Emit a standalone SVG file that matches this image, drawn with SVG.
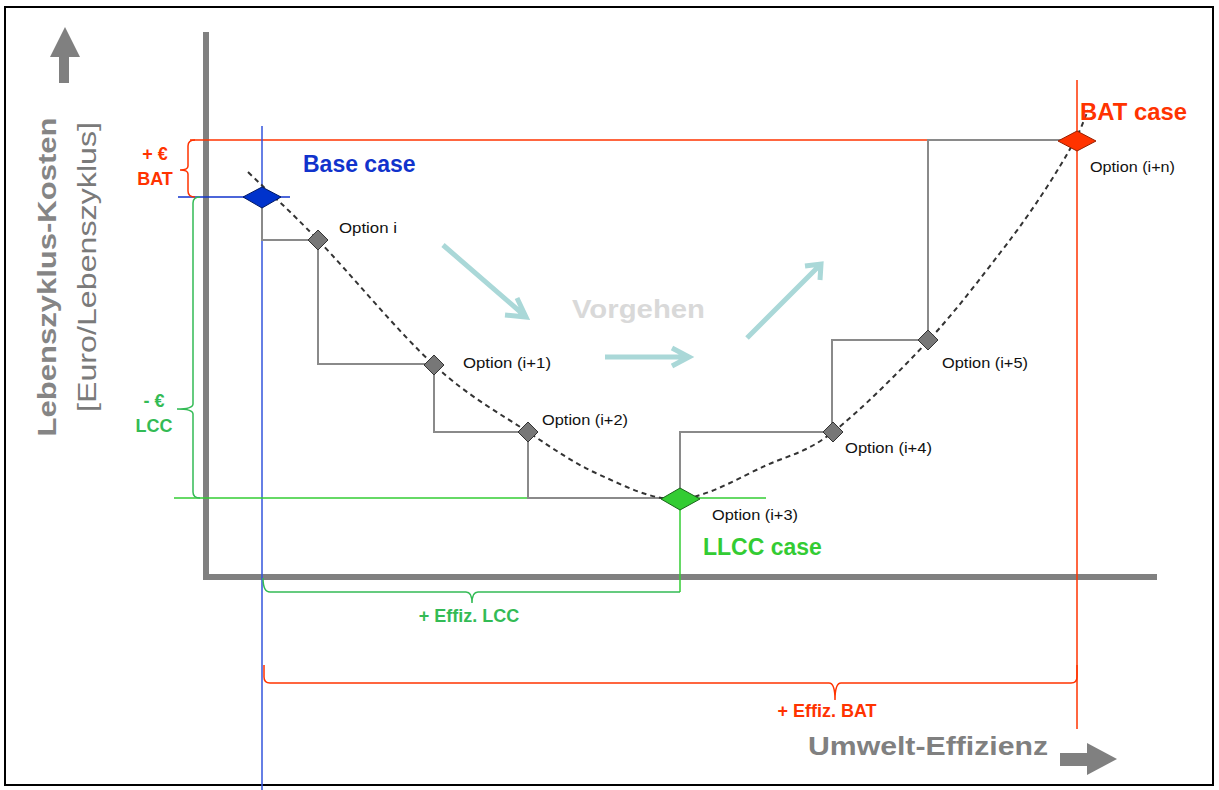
<svg xmlns="http://www.w3.org/2000/svg" width="1219" height="790" viewBox="0 0 1219 790">
<style>
.axis{stroke:#808080;stroke-width:6;fill:none}
.step{stroke:#8a8a8a;stroke-width:2;fill:none}
.opt{font-family:"Liberation Sans",Arial,sans-serif;font-size:15.5px;fill:#111}
.case{font-family:"Liberation Sans",Arial,sans-serif;font-size:23px;font-weight:bold}
.lbl{font-family:"Liberation Sans",Arial,sans-serif;font-size:18px;font-weight:bold;text-anchor:middle}
.od{fill:#777;stroke:#333;stroke-width:1}
.proc{stroke:#aad8d8;stroke-width:5;fill:none;stroke-linecap:butt}
</style>
<rect x="5" y="7" width="1208" height="778" fill="#fff" stroke="#000" stroke-width="2"/>

<g id="axes">
<line class="axis" x1="206" y1="32" x2="206" y2="580"/>
<line class="axis" x1="203" y1="577" x2="1157" y2="577"/>
<polygon points="65,27 80,57 69,57 69,83 59,83 59,57 50,57" fill="#808080"/>
<polygon points="1117,759 1087,743 1087,753 1060,753 1060,766 1087,766 1087,775" fill="#808080"/>
<text font-family="Liberation Sans,Arial,sans-serif" font-size="25" font-weight="bold" fill="#858585" transform="translate(56,277) rotate(-90)" text-anchor="middle" textLength="319" lengthAdjust="spacingAndGlyphs">Lebenszyklus-Kosten</text>
<text font-family="Liberation Sans,Arial,sans-serif" font-size="25" fill="#7a7a7a" transform="translate(96,267) rotate(-90)" text-anchor="middle" textLength="290" lengthAdjust="spacingAndGlyphs">[Euro/Lebenszyklus]</text>
<text x="808" y="755" font-family="Liberation Sans,Arial,sans-serif" font-size="25" font-weight="bold" fill="#808080" textLength="240" lengthAdjust="spacingAndGlyphs">Umwelt-Effizienz</text>
</g>

<g id="guides">
<line x1="190" y1="140" x2="1075" y2="140" stroke="#ff3300" stroke-width="1.5"/>
<line x1="1077" y1="80" x2="1077" y2="729" stroke="#ff3300" stroke-width="1.5"/>
<line x1="262" y1="126" x2="262" y2="790" stroke="#3355dd" stroke-width="1.5"/>
<line x1="178" y1="197" x2="290" y2="197" stroke="#1133cc" stroke-width="1.5"/>
<line x1="174" y1="498" x2="766" y2="498" stroke="#33cc33" stroke-width="1.5"/>
</g>

<g id="brackets" fill="none" stroke-width="1.5">
<path d="M195,140 Q188,140 188,146 L188,166 Q188,170 180,170 Q188,170 188,174 L188,191 Q188,197 195,197" stroke="#ff3300"/>
<path d="M200,197 Q193,197 193,203 L193,404 Q193,409 177,409 Q193,409 193,414 L193,492 Q193,498 200,498" stroke="#33bb55"/>
<path d="M263,578 Q263,592 270,592 L466,592 Q472,592 472,603 Q472,592 478,592 L680,592" stroke="#33bb55"/>
<path d="M264,665 L264,677 Q264,683 270,683 L829,683 Q835,683 835,700 Q835,683 841,683 L1071,683 Q1077,683 1077,677 L1077,665" stroke="#ff3300"/>
<line x1="680" y1="470" x2="680" y2="592" stroke="#33cc33"/>
</g>

<g id="connectors">
<path class="step" d="M262,197 V240 H318 V364 H434 V432 H528 V498 H680 V432 H832 V340 H928 V140 H1075"/>
<path d="M248,172 C271.3,194.7 287,207.8 318,240 C349,272.2 399,333 434,365 C469,397 500.3,413.7 528,432 C555.7,450.3 574.7,463.8 600,475 C625.3,486.2 652.2,500.7 680,499 C707.8,497.3 741.5,476.2 767,465 C792.5,453.8 806.2,452.7 833,432 C859.8,411.3 900.2,370.8 928,341 C955.8,311.2 980.8,277.7 1000,253 C1019.2,228.3 1030.5,211.8 1043,193 C1055.5,174.2 1067.5,153.8 1075,140 C1082.5,126.2 1083.7,120 1088,110" fill="none" stroke="#333" stroke-width="2" stroke-dasharray="5,4"/>
<g id="process">
<path class="proc" d="M443,245 L525,316 M517,298 L526,317 L505,315"/>
<path class="proc" d="M605,357 L688,357 M672,348 L689,357 L672,366"/>
<path class="proc" d="M747,338 L820,265 M805,266 L821,264 L820,280"/>
<text x="572" y="318" font-family="Liberation Sans,Arial,sans-serif" font-size="26" font-weight="bold" fill="#d9d9d9" textLength="133" lengthAdjust="spacingAndGlyphs">Vorgehen</text>
</g>
</g>

<g id="base">
<polygon points="243,197 262,187 281,197 262,208" fill="#0033cc" stroke="#001a66" stroke-width="1"/>
<text class="case" x="303" y="172" fill="#1133cc">Base case</text>
</g>
<g id="opt-i"><polygon class="od" points="308,240 318,230 328,240 318,250"/><text class="opt" x="339" y="233" textLength="58" lengthAdjust="spacingAndGlyphs">Option i</text></g>
<g id="opt-i1"><polygon class="od" points="424,365 434,355 444,365 434,375"/><text class="opt" x="463" y="368" textLength="88" lengthAdjust="spacingAndGlyphs">Option (i+1)</text></g>
<g id="opt-i2"><polygon class="od" points="518,432 528,422 538,432 528,442"/><text class="opt" x="542" y="425" textLength="86" lengthAdjust="spacingAndGlyphs">Option (i+2)</text></g>
<g id="llcc">
<polygon points="661,499 680,488 700,499 680,510" fill="#33cc33" stroke="#1a661a" stroke-width="1"/>
<text class="opt" x="712" y="520" textLength="86" lengthAdjust="spacingAndGlyphs">Option (i+3)</text>
<text class="case" x="703" y="555" fill="#33cc33">LLCC case</text>
</g>
<g id="opt-i4"><polygon class="od" points="823,432 833,422 843,432 833,442"/><text class="opt" x="845" y="453" textLength="87" lengthAdjust="spacingAndGlyphs">Option (i+4)</text></g>
<g id="opt-i5"><polygon class="od" points="918,340 928,330 938,340 928,350"/><text class="opt" x="942" y="368" textLength="86" lengthAdjust="spacingAndGlyphs">Option (i+5)</text></g>
<g id="bat">
<polygon points="1058,141 1077,131 1096,141 1077,151" fill="#ff3300" stroke="#992000" stroke-width="1"/>
<text class="opt" x="1090" y="172" textLength="85" lengthAdjust="spacingAndGlyphs">Option (i+n)</text>
<text class="case" x="1080" y="120" fill="#ff3300" textLength="107" lengthAdjust="spacingAndGlyphs">BAT case</text>
</g>

<g id="bracket-labels">
<text class="lbl" x="155" y="160" fill="#ff3300">+ €</text>
<text class="lbl" x="155" y="185" fill="#ff3300">BAT</text>
<text class="lbl" x="154" y="407" fill="#33bb55">- €</text>
<text class="lbl" x="154" y="432" fill="#33bb55">LCC</text>
<text class="lbl" x="469" y="622" fill="#33bb55" font-size="19">+ Effiz. LCC</text>
<text class="lbl" x="827" y="717" fill="#ff3300" font-size="19">+ Effiz. BAT</text>
</g>
</svg>
